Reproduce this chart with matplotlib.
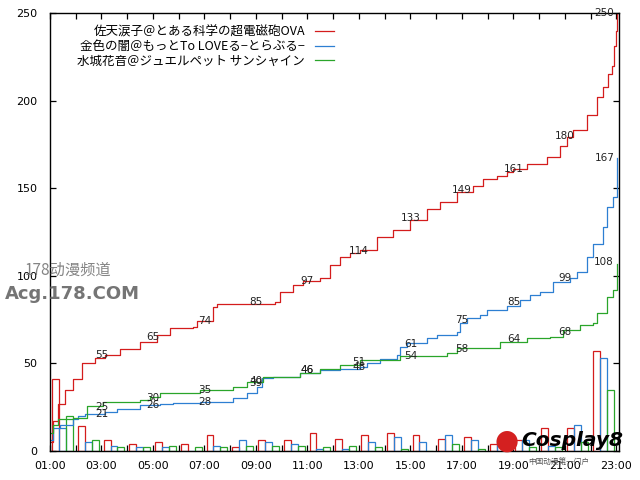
import matplotlib
matplotlib.use("Agg")
import matplotlib.pyplot as plt
from matplotlib.ticker import MultipleLocator, FixedLocator, FuncFormatter

plt.rcParams['font.family'] = ['DejaVu Sans', 'Noto Sans CJK JP']

# series names and colours
names = [
    "佐天涙子＠とある科学の超電磁砲OVA",
    "金色の闇＠もっとTo LOVEる−とらぶる−",
    "水城花音＠ジュエルペット サンシャイン",
]
colors = ['#d41c1c', '#2d7fd2', '#2aa52a']

# votes per hour (bars), hour bins 01:00 .. 22:00
hours = list(range(1, 23))
red_hourly = [41, 14, 6, 4, 5, 4, 9, 2, 6, 6, 10, 7, 9, 10, 9, 7, 8, 4, 6, 13, 13, 57]
blue_hourly = [13, 5, 3, 2, 2, 0, 3, 6, 5, 4, 1, 1, 5, 8, 5, 9, 6, 6, 6, 3, 15, 53]
green_hourly = [20, 6, 2, 2, 3, 2, 2, 3, 3, 3, 2, 3, 2, 1, 0, 4, 1, 3, 2, 2, 5, 35]

# cumulative totals
red_times = ["01:00", "01:07", "01:19", "01:35", "01:54", "02:15", "02:45", "03:08", "03:43",
             "04:30", "05:09", "05:40", "06:33", "06:43", "07:20", "07:29", "09:44", "09:56",
             "10:26", "10:50", "11:29", "11:52", "12:16", "12:40", "13:02", "13:42", "14:19",
             "14:59", "15:38", "16:09", "16:48", "17:26", "17:49", "18:22", "18:45", "18:58",
             "19:31", "20:18", "20:48", "21:05", "21:19", "21:51", "22:15", "22:29", "22:40",
             "22:50", "22:54", "22:59", "23:01"]
red_total = [5, 17, 27, 35, 41, 50, 53, 55, 58,
             62, 66, 70, 71, 74, 82, 84, 85, 91,
             95, 97, 99, 106, 111, 113, 115, 122, 126,
             132, 138, 142, 148, 151, 155, 157, 159, 161,
             164, 168, 174, 179, 183, 192, 202, 208, 215,
             220, 231, 240, 250]

blue_times = ["01:00", "01:07", "01:23", "01:54", "02:05", "02:22", "03:08", "03:36", "04:30",
              "05:16", "05:47", "06:50", "08:06", "08:39", "09:02", "09:14", "09:40", "10:43",
              "11:29", "12:16", "13:02", "13:19", "13:49", "14:29", "14:36", "14:52", "15:38",
              "16:02", "16:48", "16:55", "17:12", "17:42", "17:58", "18:45", "19:15", "19:38",
              "20:02", "20:32", "21:12", "21:28", "21:51", "22:05", "22:29", "22:38", "22:52",
              "23:01", "23:02"]
blue_total = [6, 13, 15, 18, 20, 21, 22, 24, 26,
              27, 27.5, 28, 30, 33, 36.5, 41.5, 42, 44.5,
              46, 47, 48, 50, 52.5, 55, 59.5, 61.5, 64.5,
              66, 68, 73, 76, 77.5, 80.5, 83, 86, 89,
              91, 96.5, 99, 102, 111, 118, 128, 139, 145,
              151, 167]

green_times = ["01:00", "01:07", "01:19", "01:54", "02:26", "03:03", "04:30", "04:53", "05:16",
               "06:50", "08:06", "08:39", "09:16", "10:43", "11:29", "12:16", "13:02", "14:36",
               "16:09", "16:25", "16:48", "17:58", "18:29", "19:31", "20:25", "20:55", "21:35",
               "22:05", "22:15", "22:38", "22:52", "23:01"]
green_total = [10, 15, 18, 19, 25.5, 28, 29, 31, 33,
               34.8, 36.5, 39.5, 42, 44.5, 46.8, 49, 52, 54,
               54, 56, 58.8, 58.8, 62, 64.5, 65, 69, 72,
               73, 79, 88, 92, 107]

# totals printed every two hours, plus the final one
label_hours = [3, 5, 7, 9, 11, 13, 15, 17, 19, 21]
red_labels = [55, 65, 74, 85, 97, 114, 133, 149, 161, 180]
blue_labels = [21, 26, 28, 39, 46, 48, 61, 75, 85, 99]
green_labels = [25, 30, 35, 40, 46, 51, 54, 58, 64, 68]
final_totals = [250, 167, 108]

tick_hours = list(range(1, 24, 2))


def to_hours(stamps):
    return [int(s[:2]) + int(s[3:]) / 60 for s in stamps]


fig = plt.figure(figsize=(6.4, 4.8), dpi=100)
ax = fig.add_axes([50 / 640, 29 / 480, 569 / 640, 438 / 480])

hourly = [red_hourly, blue_hourly, green_hourly]
times = [red_times, blue_times, green_times]
totals = [red_total, blue_total, green_total]
labels = [red_labels, blue_labels, green_labels]

# outlined hourly bars, three per hour
bar_w = 0.27
for i in range(3):
    ax.bar([h + 0.08 + i * bar_w for h in hours], hourly[i], width=bar_w, align='edge',
           fill=False, edgecolor=colors[i], linewidth=0.9)

# cumulative step lines
for i in range(3):
    t = to_hours(times[i])
    ax.plot(t, totals[i], drawstyle='steps-post', color=colors[i], linewidth=0.9,
            label=names[i])
    for h, v in zip(label_hours, labels[i]):
        ax.text(h, v, str(v), ha='center', va='center', fontsize=7.5, color='#222222')
    ax.text(t[-1] - 0.12, final_totals[i], str(final_totals[i]), ha='right', va='center',
            fontsize=7.5, color='#222222')

ax.set_xlim(1.0, 23.1)
ax.set_ylim(0, 250)
ax.xaxis.set_major_locator(FixedLocator(tick_hours))
ax.xaxis.set_minor_locator(MultipleLocator(1))
ax.yaxis.set_major_locator(MultipleLocator(50))
ax.xaxis.set_major_formatter(FuncFormatter(lambda v, p: "%02d:00" % int(round(v))))
ax.tick_params(which='both', direction='in', length=4, width=0.9, top=True, right=True,
               labelsize=8, colors='black')
ax.tick_params(axis='x', pad=7)
ax.tick_params(axis='y', pad=9)
for s in ax.spines.values():
    s.set_linewidth(1.0)

leg = ax.legend(loc='upper right', bbox_to_anchor=((340 - 50) / 569, 0.985), frameon=False,
                borderpad=0, markerfirst=False, handlelength=1.5, handletextpad=0.8,
                labelspacing=0.12, prop={'family': ['Noto Sans CJK JP'], 'size': 9})

# site watermarks
fig.text(25 / 640, 1 - 270 / 480, "178动漫频道", fontsize=11, color='#777777',
         family=['Noto Sans CJK SC'], va='center', alpha=0.9)
fig.text(5 / 640, 1 - 294 / 480, "Acg.178.COM", fontsize=13, color='#666666',
         fontweight='bold', va='center', alpha=0.9)
fig.text(521 / 640, 1 - 441 / 480, "Cosplay8", fontsize=14.5, color='black',
         fontweight='bold', style='italic', va='center')
fig.text(528 / 640, 1 - 463 / 480, "中国动漫第一门户", fontsize=5.5, color='#555555',
         family=['Noto Sans CJK SC'], va='center')
fig.text(507 / 640, 1 - 441 / 480, "●", fontsize=20, color='#d42020', ha='center', va='center')

fig.savefig("out.png", dpi=100)
